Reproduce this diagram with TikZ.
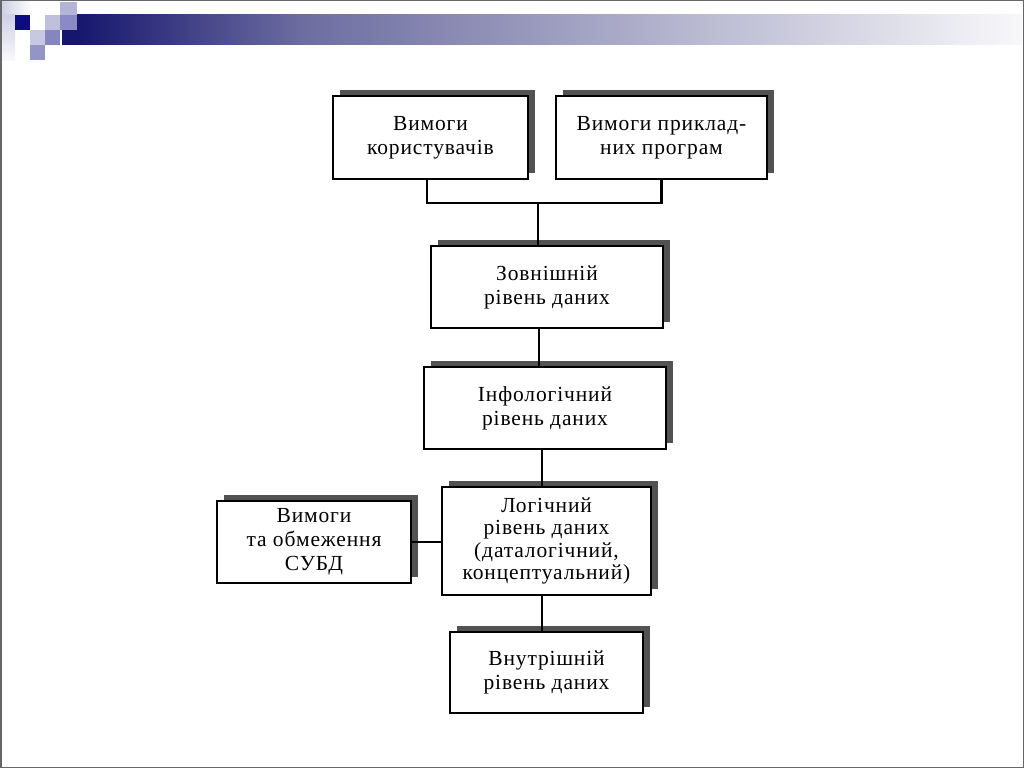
\documentclass[tikz,border=0pt]{standalone}
\usepackage{fontspec}
\setmainfont[LetterSpace=4]{Liberation Serif}
\usetikzlibrary{shadows}
\definecolor{decoNavy}{HTML}{16166E}
\definecolor{decoMid}{HTML}{6C6CA0}
\definecolor{decoEnd}{HTML}{F8F8FA}
\definecolor{decoPale}{HTML}{D0D0E6}
\definecolor{sqA}{HTML}{C8C8E0}
\definecolor{sqB}{HTML}{9494C6}
\definecolor{sqC}{HTML}{C0C0DE}
\definecolor{sqD}{HTML}{8686BE}
\definecolor{sqE}{HTML}{B4B4D8}
\definecolor{sqF}{HTML}{8A8AC6}
\definecolor{sqN}{HTML}{0C0C80}
\begin{document}
\begin{tikzpicture}[x=1pt,y=-1pt,
  box/.style={draw=black, line width=2.2pt, fill=white, align=center, inner sep=2pt,
    font=\fontsize{21.5}{24}\selectfont,
    drop shadow={shadow xshift=6.5pt, shadow yshift=6.5pt, fill=black!68, opacity=1}},
  link/.style={line width=2.8pt, draw=black}]
\useasboundingbox (0,0) rectangle (1024,768);
\fill[white] (0,0) rectangle (1024,768);
% top decoration
\shade[left color=decoNavy, right color=decoMid] (77,15) rectangle (300,45);
\shade[left color=decoMid, right color=decoEnd] (299.5,15) rectangle (1022,45);
\fill[decoNavy] (62,30) rectangle (77.5,45);
\shade[left color=decoPale, right color=white!90!decoPale] (2,2) rectangle (30,15);
\shade[top color=decoPale, bottom color=white!85!decoPale] (2,15) rectangle (15,60);
\fill[sqN] (15,15) rectangle (30,30);
\fill[sqA] (30,30) rectangle (45,45);
\fill[sqB] (30,45) rectangle (45,60);
\fill[sqC] (45,15) rectangle (60,30);
\fill[sqD] (45,30) rectangle (60,45);
\fill[sqE] (60,2) rectangle (77,15);
\fill[sqF] (60,15) rectangle (77,30);
% page border
\draw[black!60, line width=1.5pt] (0.75,0.75) rectangle (1023.25,767.25);
% boxes
\node[box, minimum width=195pt, minimum height=83pt] (b1) at (430.5,137.5) {Вимоги\\користувачів};
\node[box, minimum width=211pt, minimum height=83pt] (b2) at (661.5,137.5) {Вимоги приклад-\\них програм};
\node[box, minimum width=232pt, minimum height=82pt] (b3) at (547,287) {Зовнішній\\рівень даних};
\node[box, minimum width=242pt, minimum height=82pt] (b4) at (545,408) {Інфологічний\\рівень даних};
\node[box, minimum width=209pt, minimum height=108pt, font=\fontsize{21.5}{22.5}\selectfont] (b5) at (546.5,541) {Логічний\\рівень даних\\(даталогічний,\\концептуальний)};
\node[box, minimum width=194pt, minimum height=82pt] (b6) at (314,542) {Вимоги\\та обмеження\\СУБД};
\node[box, minimum width=193pt, minimum height=81pt] (b7) at (546.5,672.5) {Внутрішній\\рівень даних};
% connectors
\coordinate (j) at (538,203);
\coordinate (c34) at (539,0);
\coordinate (c45) at (542,0);
\draw[link] ([xshift=-3.5pt]b1.south) |- (j);
\draw[link] (b2.south) |- (j);
\draw[link] (j) -- (b3.north -| j);
\draw[link] (b3.south -| c34) -- (b4.north -| c34);
\draw[link] (b4.south -| c45) -- (b5.north -| c45);
\draw[link] (b5.south -| c45) -- (b7.north -| c45);
\draw[link] (b6.east) -- (b5.west |- b6.east);
\end{tikzpicture}
\end{document}
